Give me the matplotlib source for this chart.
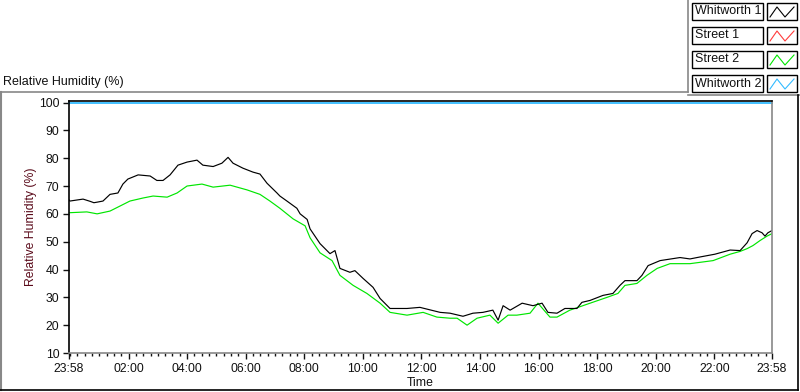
import matplotlib
matplotlib.use("Agg")
import matplotlib.pyplot as plt
from matplotlib.lines import Line2D
from matplotlib.patches import Rectangle

# ---- data (hours since the 23:58 start, relative humidity %) ----
w1_hours = [0.00, 0.03, 0.48, 0.72, 0.85, 0.96, 1.16, 1.40, 1.67, 1.84, 2.01, 2.36, 2.77, 3.00,
            3.21, 3.45, 3.72, 4.03, 4.37, 4.57, 4.92, 5.22, 5.43, 5.60, 5.94, 6.28, 6.52, 6.76,
            7.10, 7.20, 7.44, 7.78, 7.89, 8.13, 8.23, 8.57, 8.91, 9.08, 9.25, 9.59, 9.76, 10.04,
            10.38, 10.62, 10.96, 11.54, 11.98, 12.67, 13.01, 13.45, 13.79, 14.13, 14.47, 14.65,
            14.82, 15.06, 15.47, 15.84, 16.15, 16.35, 16.66, 16.93, 17.34, 17.51, 17.79, 18.23,
            18.57, 18.81, 18.98, 19.39, 19.56, 19.77, 20.18, 20.86, 21.20, 21.54, 22.05, 22.57,
            22.91, 23.15, 23.32, 23.49, 23.66, 23.76, 23.86, 24.00]
w1_rh = [65.0, 64.6, 65.3, 64.5, 64.0, 64.2, 64.6, 67.0, 67.5, 70.7, 72.5, 74.0, 73.6, 72.0,
         72.0, 74.0, 77.5, 78.6, 79.3, 77.5, 77.0, 78.2, 80.3, 78.2, 76.4, 75.0, 74.3, 71.0,
         67.5, 66.4, 64.6, 62.0, 60.0, 58.0, 54.6, 49.3, 45.7, 46.8, 40.4, 39.0, 39.6, 36.8,
         33.6, 29.6, 26.0, 26.0, 26.4, 24.6, 24.3, 23.2, 24.3, 24.6, 25.4, 21.8,
         27.0, 25.4, 27.9, 27.0, 27.9, 24.6, 24.3, 26.0, 26.0, 28.2, 28.9, 30.7,
         31.4, 34.3, 36.0, 36.0, 37.9, 41.4, 43.2, 44.3, 43.8, 44.5, 45.5, 47.0,
         46.8, 49.6, 52.9, 54.0, 53.2, 52.0, 53.2, 54.0]

s2_hours = [0.00, 0.61, 0.96, 1.40, 1.74, 2.08, 2.53, 2.87, 3.35, 3.69, 4.03, 4.54, 4.92, 5.50,
            6.08, 6.52, 6.86, 7.20, 7.65, 8.06, 8.23, 8.57, 8.98, 9.25, 9.70, 10.17, 10.62,
            10.96, 11.54, 12.09, 12.56, 13.01, 13.25, 13.59, 13.93, 14.37, 14.65, 14.99, 15.29,
            15.74, 16.01, 16.42, 16.66, 17.10, 17.38, 17.79, 18.37, 18.74, 18.98, 19.39, 19.73,
            20.08, 20.52, 21.20, 21.99, 22.57, 22.91, 23.15, 23.35, 23.59, 23.83, 24.00]
s2_rh = [60.4, 60.7, 60.0, 61.0, 62.8, 64.6, 65.7, 66.4, 66.0, 67.5, 70.0, 70.7, 69.6, 70.3,
         68.6, 67.0, 64.6, 62.0, 58.2, 55.7, 51.4, 46.0, 43.2, 37.9, 34.3, 31.4, 27.9,
         24.6, 23.6, 24.6, 22.9, 22.5, 22.5, 20.0, 22.5, 23.6, 20.7, 23.6, 23.6,
         24.3, 27.9, 22.9, 22.9, 25.4, 26.4, 27.9, 30.0, 31.4, 34.3, 35.0, 37.9,
         40.4, 42.1, 42.1, 43.2, 45.5, 46.5, 47.5, 48.6, 50.4, 52.0, 52.9]

w2_hours = [0.00, 24.00]
w2_rh = [100.0, 100.0]

s1_hours = []
s1_rh = []

series_names = ["Whitworth 1", "Street 1", "Street 2", "Whitworth 2"]
series_colors = ["#000000", "#ff3b3b", "#00e600", "#33bbff"]

start_clock = -2 / 60  # 23:58
y_ticks = [10, 20, 30, 40, 50, 60, 70, 80, 90, 100]
x_major_clock = [2, 4, 6, 8, 10, 12, 14, 16, 18, 20, 22]
x_labels = ["02:00", "04:00", "06:00", "08:00", "10:00", "12:00", "14:00", "16:00",
            "18:00", "20:00", "22:00"]

plt.rcParams["font.family"] = ["Liberation Sans", "DejaVu Sans"]

W, H = 800, 392
fig = plt.figure(figsize=(W / 100, H / 100), dpi=100)
fig.patch.set_facecolor("white")

ax = fig.add_axes([69 / W, 39 / H, 703 / W, 252 / H])
data = [(w1_hours, w1_rh), (s1_hours, s1_rh), (s2_hours, s2_rh), (w2_hours, w2_rh)]
order = [3, 1, 2, 0]
for i in order:
    hx, hy = data[i]
    ax.plot([start_clock + h for h in hx], hy, color=series_colors[i],
            lw=1.3 if i == 3 else 0.85,
            zorder=3 if i == 0 else 2, clip_on=False if i == 3 else True)

ax.set_xlim(start_clock, start_clock + 24)
ax.set_ylim(10, 100.55)
ax.set_yticks(y_ticks)
ax.set_yticklabels([str(v) for v in y_ticks])
xt = [start_clock] + x_major_clock + [start_clock + 24]
ax.set_xticks(xt)
ax.set_xticklabels(["23:58"] + x_labels + ["23:58"])
ax.set_xticks([q / 4 for q in range(0, 96)], minor=True)
ax.tick_params(axis="both", which="major", labelsize=8.8, colors="#111111",
               length=4, width=1, direction="out", pad=3)
ax.tick_params(axis="x", which="minor", length=2.5, width=1, color="#111111")
ax.tick_params(axis="y", which="minor", left=False)
for side, col in [("left", "black"), ("top", "black"), ("bottom", "#888888"), ("right", "#888888")]:
    ax.spines[side].set_color(col)
    ax.spines[side].set_linewidth(1.2)
    ax.spines[side].set_zorder(4)
ax.set_xlabel("Time", fontsize=8.8, color="#111111", labelpad=2)
ax.set_ylabel("Relative Humidity (%)", fontsize=8.8, color="#5a0a1a", labelpad=1)

# title and panel frame
fig.text(3 / W, 1 - 82 / H, "Relative Humidity (%)", fontsize=9, color="#111111",
         ha="left", va="center")
fig.add_artist(Line2D([0, 688 / W], [1 - 92 / H] * 2, color="#888888", lw=1.2))
fig.add_artist(Line2D([688 / W, 688 / W], [1 - 92 / H, 1.0], color="#888888", lw=1.2))
fig.add_artist(Line2D([688 / W, 1.0], [1 - 95 / H] * 2, color="#888888", lw=1.2))
fig.add_artist(Line2D([1 / W, 1 / W], [1 - 92 / H, 1 - 390 / H], color="#888888", lw=1.5))
fig.add_artist(Line2D([0, 798 / W], [1 - 390 / H] * 2, color="black", lw=1.2))
fig.add_artist(Line2D([798 / W, 798 / W], [1 - 95 / H, 1 - 390 / H], color="black", lw=1.2))

# legend
row_top = [3, 27, 51, 75]
for name, col, top in zip(series_names, series_colors, row_top):
    y0 = 1 - (top + 17) / H
    h = 17 / H
    fig.add_artist(Rectangle((692 / W, y0), 71 / W, h, transform=fig.transFigure,
                             facecolor="white", edgecolor="black", lw=1))
    fig.text(695 / W, y0 + h / 2, name, fontsize=9, color="#111111", ha="left", va="center")
    fig.add_artist(Rectangle((767 / W, y0), 30 / W, h, transform=fig.transFigure,
                             facecolor="white", edgecolor="black", lw=1))
    zy = [14, 4, 14, 4]
    zx = [770, 777, 785, 794]
    fig.add_artist(Line2D([x / W for x in zx], [1 - (top + v) / H for v in zy],
                          color=col, lw=0.8))

fig.savefig("out.png", dpi=100, facecolor="white")
